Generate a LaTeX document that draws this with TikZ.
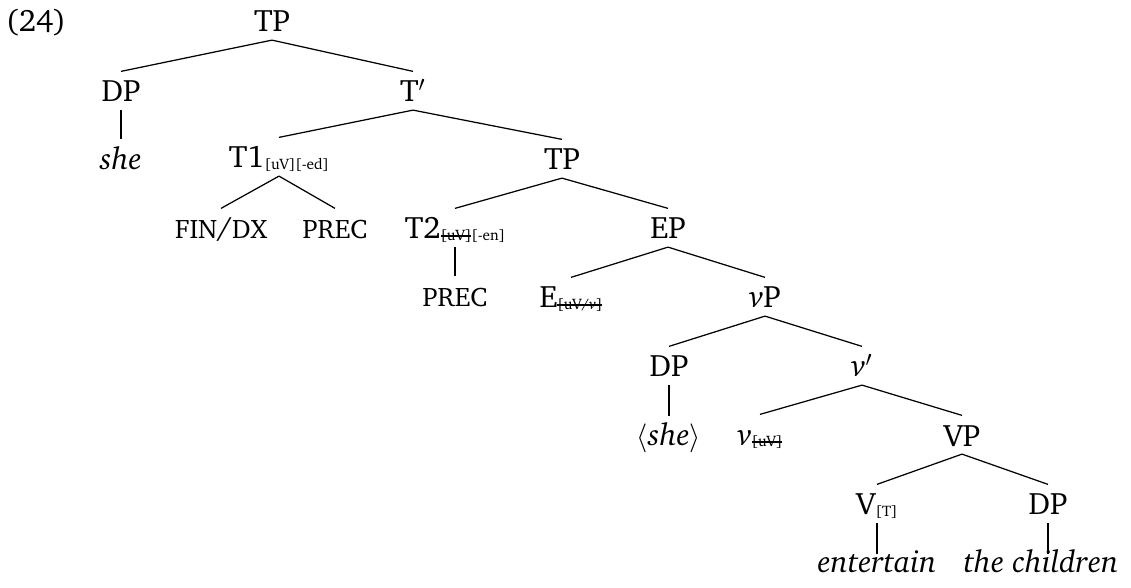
\documentclass[tikz,border=0pt]{standalone}
\usepackage[T1]{fontenc}
\usepackage{charter}
\newcommand{\feat}[1]{\raisebox{-1pt}{\fontsize{7.6}{8}\selectfont #1}}
\newcommand{\strk}[1]{\setbox0\hbox{#1}\rlap{\rule[2.2pt]{\wd0}{0.9pt}}\box0}
\newcommand{\capsm}[1]{{\fontsize{13.4}{15}\selectfont #1}}

\begin{document}
\begin{tikzpicture}[x=0.5pt, y=-0.5pt, line width=0.62pt,
    every node/.style={inner sep=0pt, anchor=base, font=\fontsize{15.5}{18}\selectfont},
    cat/.style={text height=15pt, text depth=3.75pt},
    word/.style={font=\fontsize{15.5}{18}\selectfont\itshape, text depth=3.75pt}]

    \useasboundingbox (0,0) rectangle (1131,588);

    \node (ex) at (36,32) {(24)};

    % Level 1
    \node[cat] (tp1) at (272,32) {TP};

    % Level 2
    \node[cat] (dp1) at (121,102) {DP};
    \node[cat] (tbar) at (413,102) {T$'$};

    % Level 3
    \node[word, text height=15pt] (she1) at (121,170) {she};
    \node[cat] (t1) at (279,168) {T1\feat{[uV][-ed]}};
    \node[cat] (tp2) at (562,170) {TP};

    % Level 4
    \node[cat] (findx) at (221,239) {\capsm{FIN}/\capsm{DX}};
    \node[cat] (prec1) at (335,239) {\capsm{PREC}};
    \node[cat] (t2) at (455,239) {T2\feat{\strk{[uV]}[-en]}};
    \node[cat] (ep) at (668,239) {EP};

    % Level 5
    \node[cat] (prec2) at (455,307) {\capsm{PREC}};
    \node[cat] (e) at (571,308) {E\feat{\strk{[uV/\textit{v}]}}};
    \node[cat] (vp1) at (765,308) {\textit{v}P};

    % Level 6
    \node[cat] (dp2) at (669,377) {DP};
    \node[cat] (vbar) at (862,377) {\textit{v}$'$};

    % Level 7
    \node[cat, text height=14pt] (she2) at (669,445) {$\langle$\textit{she}$\rangle$};
    \node[cat] (vhead) at (760,445) {\textit{v}\feat{\strk{[uV]}}};
    \node[cat] (vp2) at (962,446) {VP};

    % Level 8
    \node[cat] (v) at (877,515) {V\feat{[T]}};
    \node[cat] (dp3) at (1048,515) {DP};

    % Level 9
    \node[word, text height=8.5pt] (entertain) at (877,572) {entertain};
    \node[word, text height=8.5pt] (children) at (1041,572) {the children};

    % Branches
    \draw (tp1.south) -- (dp1.north);
    \draw (tp1.south) -- (tbar.north);
    \draw (dp1.south) -- (she1.north);
    \draw (tbar.south) -- (t1.north);
    \draw (tbar.south) -- (tp2.north);
    \draw (t1.south) -- (findx.north);
    \draw (t1.south) -- (prec1.north);
    \draw (tp2.south) -- (t2.north);
    \draw (tp2.south) -- (ep.north);
    \draw (t2.south) -- (prec2.north);
    \draw (ep.south) -- (e.north);
    \draw (ep.south) -- (vp1.north);
    \draw (vp1.south) -- (dp2.north);
    \draw (vp1.south) -- (vbar.north);
    \draw (dp2.south) -- (she2.north);
    \draw (vbar.south) -- (vhead.north);
    \draw (vbar.south) -- (vp2.north);
    \draw (vp2.south) -- (v.north);
    \draw (vp2.south) -- (dp3.north);
    \draw (v.south) -- (entertain.north);
    \draw (dp3.south) -- (dp3.south |- children.north);

\end{tikzpicture}
\end{document}
